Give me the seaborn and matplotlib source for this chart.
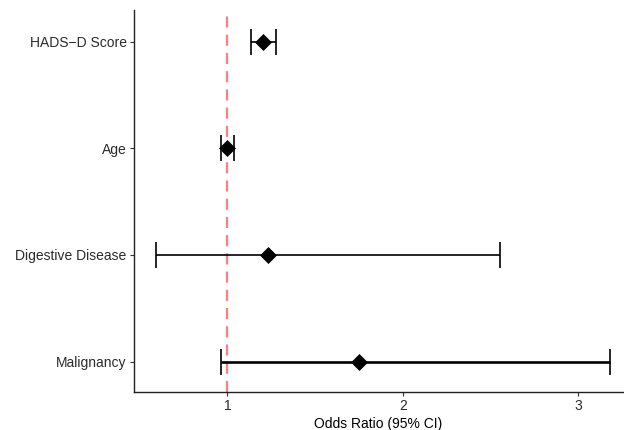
import matplotlib
matplotlib.use("Agg")
import matplotlib.pyplot as plt
import pandas as pd
import seaborn as sns
import numpy as np

sns.set_theme(style="ticks")
plt.rcParams['font.family'] = ['Liberation Sans', 'DejaVu Sans']

# odds ratios with 95% CI
variables = ['HADS\u2212D Score', 'Age', 'Digestive Disease', 'Malignancy']
odds_ratio = [1.205, 1.00, 1.234, 1.752]
ci_low = [1.137, 0.962, 0.594, 0.962]
ci_high = [1.278, 1.040, 2.554, 3.180]
x_ticks = [1, 2, 3]

df = pd.DataFrame({'variable': variables, 'or': odds_ratio,
                   'lo': ci_low, 'hi': ci_high})
df['pos'] = np.arange(len(df))

fig = plt.figure(figsize=(6.24, 4.3), dpi=100)
ax = fig.add_axes([0.214, 0.088, 0.784, 0.889])

# reference line at OR = 1
ax.axvline(1, color='#FF7F7F', linewidth=1.6, linestyle=(0, (5.0, 3.2)), zorder=1)

# confidence intervals
for _, r in df.iterrows():
    lw = 1.9 if r['variable'] == 'Malignancy' else 1.2
    ax.errorbar(r['or'], r['pos'], xerr=[[r['or'] - r['lo']], [r['hi'] - r['or']]],
                fmt='none', ecolor='black', elinewidth=lw, capsize=9.4,
                capthick=1.2, zorder=2)

sns.scatterplot(data=df, x='or', y='pos', marker='D', s=75, color='black',
                edgecolor='black', linewidth=0, ax=ax, zorder=3)

ax.set_xlim(0.465, 3.255)
ax.set_ylim(3.287, -0.297)
ax.set_yticks(df['pos'])
ax.set_yticklabels(variables)
ax.set_xticks(x_ticks)
ax.set_xticklabels([str(t) for t in x_ticks])
ax.set_xlabel('Odds Ratio (95% CI)', fontsize=10, color='black', labelpad=3)
ax.set_ylabel('')

sns.despine(ax=ax)
for s in ['left', 'bottom']:
    ax.spines[s].set_linewidth(1.0)
    ax.spines[s].set_color('#222222')
ax.tick_params(axis='both', labelsize=10, labelcolor='#2b2b2b', length=3,
               width=0.8, color='#333333', pad=2)

fig.savefig('out.png', dpi=100)
